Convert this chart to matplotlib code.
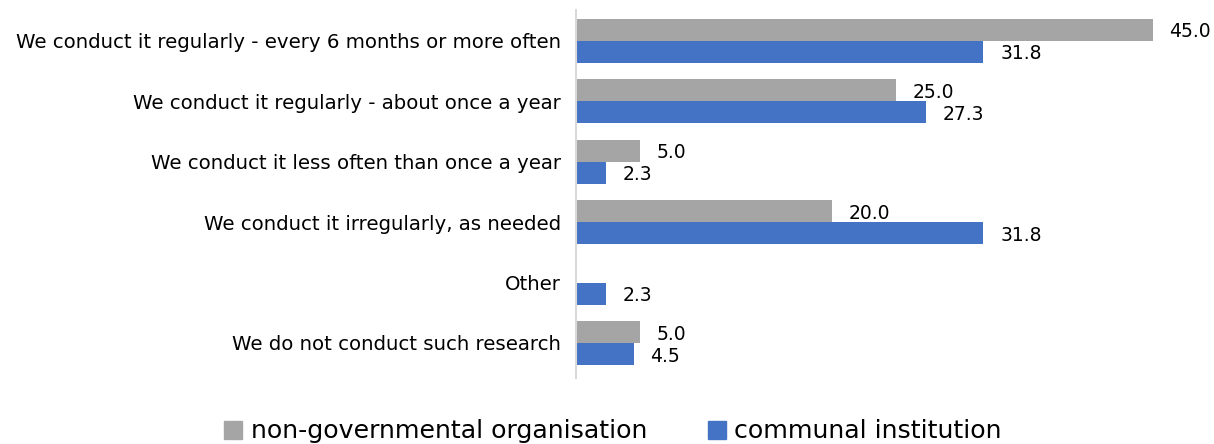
import matplotlib
matplotlib.use('Agg')
import numpy as np
import matplotlib.pyplot as plt
from matplotlib.patches import Patch

categories = [
    "We conduct it regularly - every 6 months or more often",
    "We conduct it regularly - about once a year",
    "We conduct it less often than once a year",
    "We conduct it irregularly, as needed",
    "Other",
    "We do not conduct such research",
]
ngo_values = [45.0, 25.0, 5.0, 20.0, 0.0, 5.0]
communal_values = [31.8, 27.3, 2.3, 31.8, 2.3, 4.5]
series_names = ["non-governmental organisation", "communal institution"]

gray = "#A5A5A5"
blue = "#4472C4"
plt.rcParams['font.family'] = ['DejaVu Sans']

fig = plt.figure(figsize=(12.14, 4.44), dpi=100)
ax = fig.add_axes([0.4745, 0.1486, 0.5255, 0.8289])

y = np.arange(len(categories))
h = 0.364
ax.barh(y - h / 2, ngo_values, height=h, color=gray)
ax.barh(y + h / 2, communal_values, height=h, color=blue)

# value labels to the right of each bar (skip empty bars)
for yi, v in zip(y, ngo_values):
    if v > 0:
        ax.annotate(f"{v:.1f}", (v, yi - h / 2), xytext=(12, -1.5), textcoords="offset points",
                    va="center", ha="left", fontsize=13.5, color="black")
for yi, v in zip(y, communal_values):
    if v > 0:
        ax.annotate(f"{v:.1f}", (v, yi + h / 2), xytext=(12, -1.5), textcoords="offset points",
                    va="center", ha="left", fontsize=13.5, color="black")

ax.set_xlim(0, 49.8)
ax.set_ylim(5.58, -0.51)
ax.set_yticks(y)
ax.set_yticklabels(categories, fontsize=14.2)
ax.tick_params(axis='y', length=0, pad=11)
ax.set_xticks([])
for side in ["top", "right", "bottom"]:
    ax.spines[side].set_visible(False)
ax.spines["left"].set_color("#D9D9D9")
ax.spines["left"].set_linewidth(1.5)

handles = [Patch(color=gray), Patch(color=blue)]
fig.legend(handles, series_names, loc="lower center", bbox_to_anchor=(0.505, -0.05), ncol=2,
           frameon=False, fontsize=18.2, handlelength=0.72, handleheight=0.72,
           handletextpad=0.33, columnspacing=2.4)

fig.savefig("out.png", dpi=100)
